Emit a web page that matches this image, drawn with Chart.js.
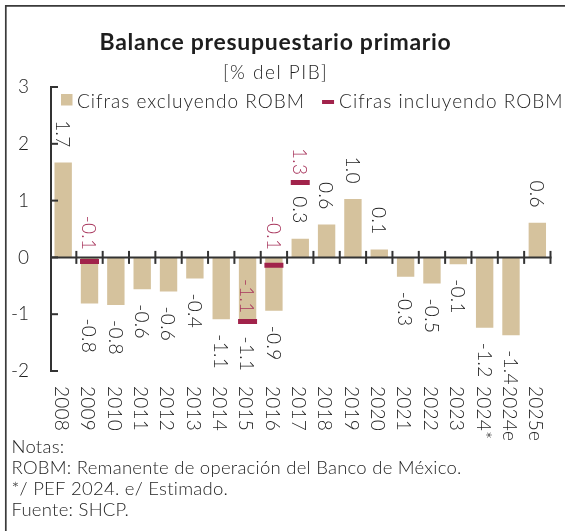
<!DOCTYPE html>
<html>
<head>
<meta charset="utf-8">
<script src="https://cdn.jsdelivr.net/npm/chart.js@4.4.1/dist/chart.umd.min.js"></script>
<style>
    html, body { margin: 0; padding: 0; background: #fff; }
    #wrap { width: 565px; height: 531px; }
</style>
</head>
<body>
<div id="wrap"><canvas id="balanceChart" width="565" height="531"></canvas></div>
<script>
const years = ['2008', '2009', '2010', '2011', '2012', '2013', '2014', '2015', '2016', '2017',
    '2018', '2019', '2020', '2021', '2022', '2023', '2024*', '2024e', '2025e']
// % del PIB
const sinRobm = [1.67, -0.81, -0.84, -0.56, -0.60, -0.37, -1.09, -1.13, -0.94, 0.33,
    0.58, 1.03, 0.14, -0.34, -0.46, -0.12, -1.24, -1.37, 0.61]
const conRobm = [null, -0.07, null, null, null, null, null, -1.13, -0.14, 1.32,
    null, null, null, null, null, null, null, null, null]
const yTicks = [-2, -1, 0, 1, 2, 3]
const titulo = 'Balance presupuestario primario'
const subtitulo = '[% del PIB]'
const notas = [
    'Notas:',
    'ROBM: Remanente de operación del Banco de México.',
    '*/ PEF 2024. e/ Estimado.',
    'Fuente: SHCP.'
]

const C_BAR = '#d5c29d'
const C_ROBM = '#a1234b'
const C_ROBM_TEXT = '#a8365d'
const C_TEXT = '#1e1e1e'
const C_AXIS = '#333333'
const FAMILY = 'Lato, "Noto Sans", sans-serif'
const LIGHT = '300 19px ' + FAMILY

function vText(ctx, s, x, y, align, color, spacing) {
    ctx.save()
    ctx.translate(x, y)
    ctx.rotate(Math.PI / 2)
    ctx.font = LIGHT
    ctx.letterSpacing = spacing + 'px'
    ctx.fillStyle = color
    ctx.textAlign = align
    ctx.textBaseline = 'middle'
    ctx.fillText(s, 0, 0)
    ctx.restore()
}

const decor = {
    id: 'balanceDecor',
    beforeDraw(chart) {
        const ctx = chart.ctx
        ctx.save()
        ctx.fillStyle = '#fff'
        ctx.fillRect(0, 0, chart.width, chart.height)

        // marco
        ctx.strokeStyle = '#3a3a3a'
        ctx.lineWidth = 1.7
        ctx.beginPath()
        ctx.moveTo(5.8, chart.height)
        ctx.lineTo(5.8, 5.8)
        ctx.lineTo(chart.width, 5.8)
        ctx.stroke()

        ctx.fillStyle = C_TEXT
        ctx.textAlign = 'center'
        ctx.textBaseline = 'alphabetic'
        ctx.font = 'bold 23px ' + FAMILY
        ctx.letterSpacing = '0.7px'
        ctx.fillText(titulo, 275.5, 50)
        ctx.font = LIGHT
        ctx.letterSpacing = '1.5px'
        ctx.fillText(subtitulo, 275.5, 79.3)

        // notas
        ctx.textAlign = 'left'
        ctx.font = '300 18.5px ' + FAMILY
        ctx.letterSpacing = '0.25px'
        notas.forEach((n, i) => ctx.fillText(n, 11.5, 453.3 + i * 20.8))

        // leyenda
        const ds = chart.data.datasets
        ctx.font = LIGHT
        ctx.letterSpacing = '1px'
        ctx.fillStyle = C_BAR
        ctx.fillRect(61, 94, 11.5, 11.5)
        ctx.fillStyle = C_TEXT
        ctx.fillText(ds[0].label, 77, 107.7)
        let x2 = 77 + ctx.measureText(ds[0].label).width + 17
        ctx.fillStyle = C_ROBM
        ctx.fillRect(x2, 100, 12, 4)
        ctx.fillStyle = C_TEXT
        ctx.fillText(ds[1].label, x2 + 17, 107.7)
        ctx.restore()
    },
    afterDatasetsDraw(chart) {
        const { ctx, chartArea, scales: { x, y } } = chart
        const y0 = y.getPixelForValue(0)
        ctx.save()
        ctx.strokeStyle = C_AXIS
        ctx.lineWidth = 2

        // eje y con marcas hacia dentro
        ctx.beginPath()
        ctx.moveTo(chartArea.left + 1, y.getPixelForValue(yTicks[yTicks.length - 1]))
        ctx.lineTo(chartArea.left + 1, y.getPixelForValue(yTicks[0]))
        ctx.stroke()
        yTicks.forEach(v => {
            const py = y.getPixelForValue(v)
            ctx.beginPath()
            ctx.moveTo(chartArea.left, py)
            ctx.lineTo(chartArea.left + 8, py)
            ctx.stroke()
        })

        // linea del cero con separadores
        ctx.beginPath()
        ctx.moveTo(chartArea.left, y0)
        ctx.lineTo(chartArea.right + 1, y0)
        ctx.stroke()
        for (let i = 1; i <= years.length; i++) {
            const px = x.getPixelForValue(i - 0.5)
            ctx.beginPath()
            ctx.moveTo(px, y0 - 6.5)
            ctx.lineTo(px, y0 + 6.5)
            ctx.stroke()
        }
        ctx.restore()

        // etiquetas de datos
        const bars = chart.getDatasetMeta(0).data
        bars.forEach((b, i) => {
            const v = sinRobm[i]
            if (v >= 0) vText(ctx, v.toFixed(1), b.x - 1, b.y - 15, 'right', C_TEXT, 0.3)
            else vText(ctx, v.toFixed(1), b.x - 1, b.y + 15, 'left', C_TEXT, 0.3)
        })
        const pts = chart.getDatasetMeta(1).data
        pts.forEach((p, i) => {
            const v = conRobm[i]
            if (v === null) return
            // cerca del cero la etiqueta sube por encima del eje
            const end = p.y - y0 > 20 ? p.y - 8 : Math.min(p.y, y0) - 7
            vText(ctx, v.toFixed(1), p.x - 1, end, 'right', C_ROBM_TEXT, 0.3)
        })

        // años
        years.forEach((yr, i) => {
            vText(ctx, yr, x.getPixelForValue(i) - 2, chartArea.bottom + 15, 'left', C_TEXT, 0.2)
        })
    }
}

new Chart(document.getElementById('balanceChart'), {
    data: {
        labels: years,
        datasets: [
            {
                type: 'bar',
                label: 'Cifras excluyendo ROBM',
                data: sinRobm,
                backgroundColor: C_BAR,
                barPercentage: 0.66,
                categoryPercentage: 1,
                order: 2
            },
            {
                type: 'line',
                label: 'Cifras incluyendo ROBM',
                data: conRobm,
                showLine: false,
                pointStyle: 'line',
                pointRadius: 9.5,
                pointBorderWidth: 5,
                borderColor: C_ROBM,
                backgroundColor: C_ROBM,
                order: 1
            }
        ]
    },
    options: {
        responsive: false,
        animation: false,
        events: [],
        layout: { padding: { left: 5, right: 11, top: 87, bottom: 160 } },
        plugins: {
            legend: { display: false },
            tooltip: { enabled: false }
        },
        scales: {
            x: { display: false, offset: true },
            y: {
                min: -2,
                max: 3,
                afterFit: scale => { scale.width = 45 },
                grid: { display: false, drawTicks: false },
                border: { display: false },
                ticks: {
                    stepSize: 1,
                    padding: 21,
                    color: C_TEXT,
                    font: { family: FAMILY, size: 19, weight: 300 }
                }
            }
        }
    },
    plugins: [decor]
})
</script>
</body>
</html>
